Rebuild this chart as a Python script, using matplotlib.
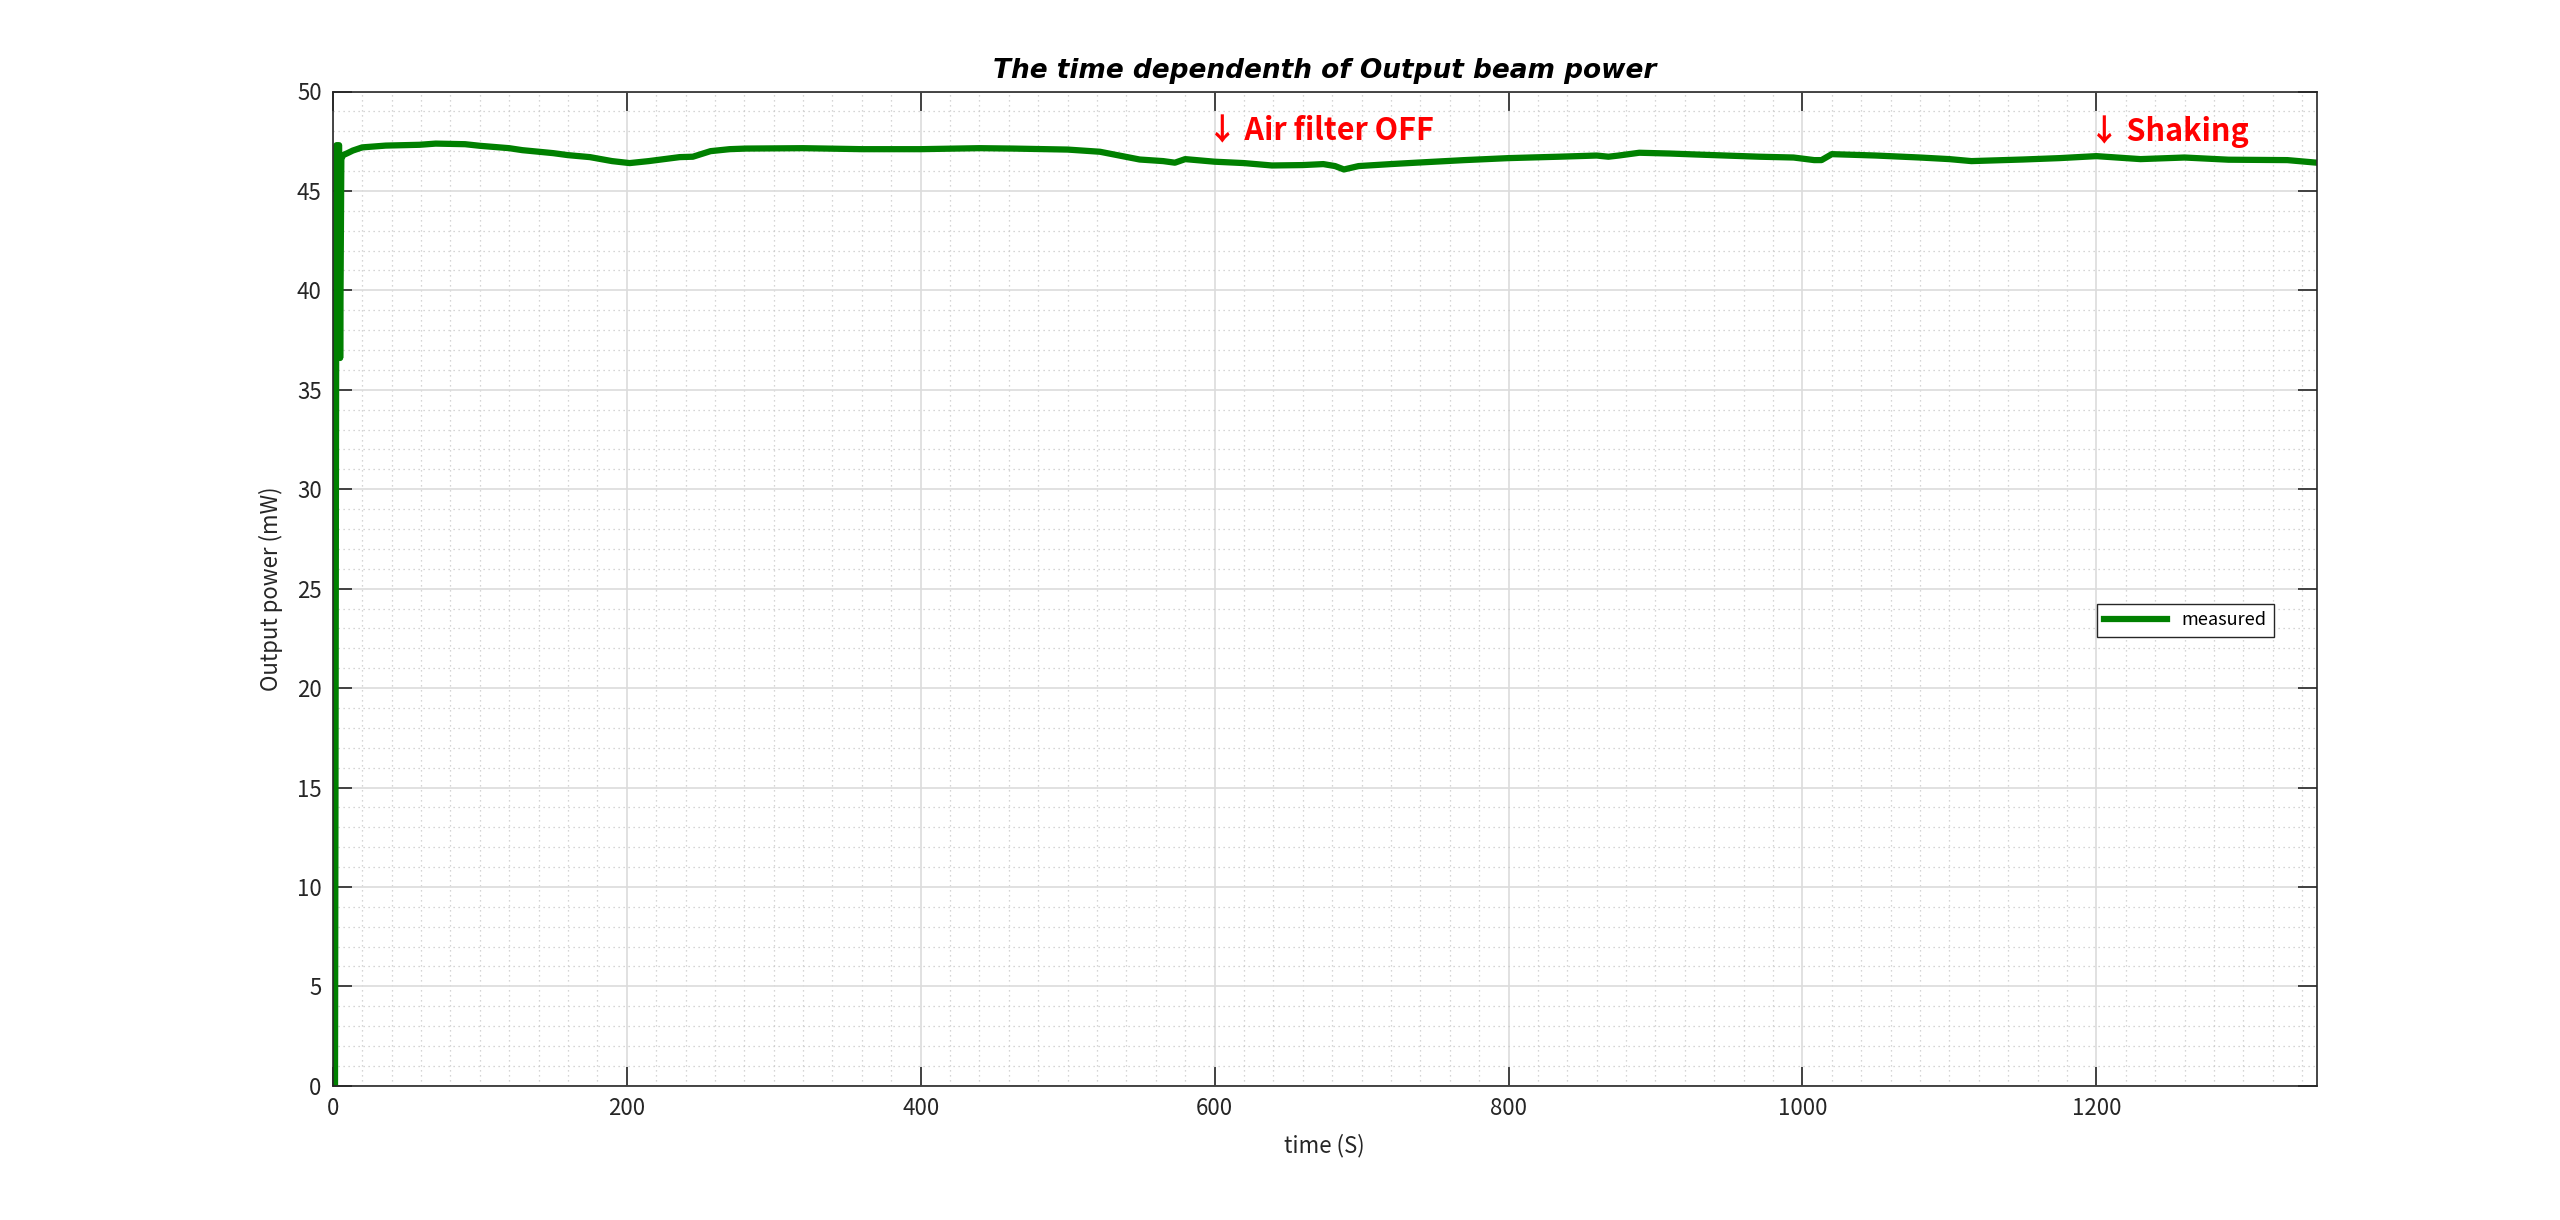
import numpy as np
import matplotlib
matplotlib.use("Agg")
import matplotlib.pyplot as plt
from matplotlib.ticker import MultipleLocator

plt.rcParams['font.family'] = ['Noto Sans CJK JP', 'DejaVu Sans']

# measured output power
time_s = [0, 1.5, 2.5, 4.3, 5, 5.8, 7, 10, 13.6, 20, 36, 59, 70, 90, 100, 120, 129,
          150, 160, 175, 190, 202, 215, 236, 245, 257, 270, 281, 320, 360, 400, 440,
          463, 500, 522, 549, 565, 573, 580, 600, 620, 639, 660, 674, 682, 688, 698,
          720, 737, 770, 800, 834, 860, 868, 875, 889, 910, 932, 971, 994, 1008, 1013,
          1020, 1050, 1080, 1100, 1115, 1150, 1175, 1200, 1230, 1260, 1290, 1330, 1350]
power_mw = [0, 0, 47.3, 47.3, 36.6, 46.6, 46.8, 46.9, 47.03, 47.19, 47.28, 47.32, 47.38,
            47.35, 47.27, 47.15, 47.05, 46.9, 46.8, 46.7, 46.5, 46.4, 46.5, 46.7, 46.72,
            47.0, 47.1, 47.13, 47.15, 47.1, 47.1, 47.15, 47.13, 47.08, 46.97, 46.58, 46.5,
            46.42, 46.6, 46.47, 46.4, 46.28, 46.3, 46.35, 46.25, 46.08, 46.25, 46.35, 46.42,
            46.55, 46.65, 46.72, 46.78, 46.72, 46.78, 46.92, 46.88, 46.82, 46.72, 46.68,
            46.55, 46.55, 46.85, 46.78, 46.68, 46.6, 46.5, 46.58, 46.65, 46.75, 46.6, 46.68,
            46.57, 46.55, 46.42]

notes = ["\u2193 Air filter OFF", "\u2193 Shaking"]
note_x = [600, 1200]
note_y = [48.0, 48.0]

fig = plt.figure(figsize=(25.6, 12.2), dpi=100)
ax = fig.add_axes([0.130, 0.110, 0.775, 0.815])

ax.plot(time_s, power_mw, color="#008000", lw=4.5, label="measured")

ax.set_xlim(0, 1350)
ax.set_ylim(0, 50)
ax.xaxis.set_major_locator(MultipleLocator(200))
ax.xaxis.set_minor_locator(MultipleLocator(20))
ax.yaxis.set_major_locator(MultipleLocator(5))
ax.yaxis.set_minor_locator(MultipleLocator(1))

ax.grid(which="major", color="#dcdcdc", lw=1.2, ls="-")
ax.grid(which="minor", color="#c8c8c8", lw=0.9, ls=(0, (1, 3)))
ax.set_axisbelow(True)

ax.tick_params(which="major", direction="in", length=14, width=1.2, top=True, right=True,
               labelsize=16, colors="#262626", pad=8)
ax.tick_params(which="minor", length=0, top=True, right=True)
for sp in ax.spines.values():
    sp.set_color("#262626")
    sp.set_linewidth(1.2)

ax.set_xlabel("time (S)", fontsize=16, color="#262626", labelpad=10)
ax.set_ylabel("Output power (mW)", fontsize=16, color="#262626", labelpad=10)
ax.set_title("The time dependenth of Output beam power", fontsize=19, fontweight="bold",
             fontstyle="italic", family="DejaVu Sans", pad=10)

for txt, x, y in zip(notes, note_x, note_y):
    ax.text(x - 5, y, txt, color="red", fontsize=22, fontweight="bold", ha="left", va="center")

leg = ax.legend(loc="center right", bbox_to_anchor=(0.983, 0.468), fontsize=13,
                fancybox=False, framealpha=1, edgecolor="#262626", handlelength=3.5,
                borderpad=0.4)
leg.get_frame().set_linewidth(1.0)

fig.savefig("out.png", dpi=100)
